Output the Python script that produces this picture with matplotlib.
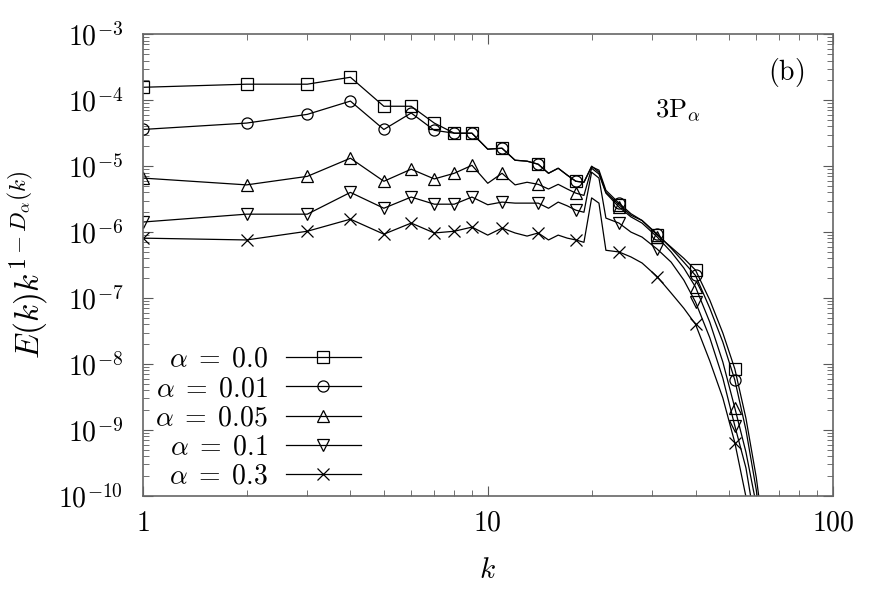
import numpy as np
import matplotlib
matplotlib.use('Agg')
import matplotlib.pyplot as plt
from matplotlib.lines import Line2D

plt.rcParams.update({
    'mathtext.fontset': 'cm',
    'font.family': 'serif',
    'font.serif': ['DejaVu Serif'],
    'font.size': 17,
})

# wavenumbers of the line data, and where markers are drawn
k = [1, 2, 3, 4, 5, 6, 7, 8, 9, 10, 11, 12, 13, 14, 15, 16, 17, 18, 19, 20, 21, 22,
     24, 26, 28, 31, 34, 37, 40, 44, 48, 52, 56, 60, 64]
k_marked = [1, 2, 3, 4, 5, 6, 7, 8, 9, 11, 14, 18, 24, 31, 40, 52]

e_a000 = [1.57e-4, 1.75e-4, 1.75e-4, 2.23e-4, 8.1e-5, 8.1e-5, 4.5e-5, 3.16e-5, 3.16e-5,
          1.81e-5, 1.87e-5, 1.23e-5, 1.19e-5, 1.07e-5, 7.8e-6, 9.3e-6, 7.3e-6, 5.9e-6,
          5.7e-6, 1.0e-5, 8.1e-6, 4.0e-6, 2.6e-6, 1.8e-6, 1.5e-6, 9.0e-7, 5.9e-7, 4.0e-7,
          2.65e-7, 9.3e-8, 2.95e-8, 8.4e-9, 1.5e-9, 1.9e-10, 1.5e-11]
e_a001 = [3.6e-5, 4.5e-5, 6.1e-5, 9.7e-5, 3.6e-5, 6.4e-5, 3.5e-5, 3.16e-5, 3.16e-5,
          1.81e-5, 1.87e-5, 1.23e-5, 1.19e-5, 1.07e-5, 7.8e-6, 9.3e-6, 7.3e-6, 5.9e-6,
          5.7e-6, 9.8e-6, 8.7e-6, 4.3e-6, 2.75e-6, 1.9e-6, 1.5e-6, 9.3e-7, 5.7e-7, 3.5e-7,
          2.2e-7, 7.0e-8, 2.15e-8, 5.7e-9, 1.0e-9, 1.23e-10, 1.07e-11]
e_a005 = [6.6e-6, 5.2e-6, 7.0e-6, 1.32e-5, 5.9e-6, 9.0e-6, 6.4e-6, 7.8e-6, 1.03e-5,
          5.5e-6, 7.8e-6, 5.2e-6, 5.7e-6, 5.3e-6, 4.5e-6, 5.3e-6, 4.5e-6, 3.9e-6,
          3.6e-6, 9.3e-6, 7.6e-6, 3.9e-6, 2.4e-6, 1.7e-6, 1.37e-6, 8.4e-7, 5.0e-7, 2.85e-7,
          1.47e-7, 4.3e-8, 1.07e-8, 2.15e-9, 4.6e-10, 7.3e-11, 6.4e-12]
e_a010 = [1.42e-6, 1.87e-6, 1.87e-6, 4.0e-6, 2.3e-6, 3.4e-6, 2.65e-6, 2.65e-6, 3.4e-6,
          2.6e-6, 2.85e-6, 2.75e-6, 2.75e-6, 2.75e-6, 2.3e-6, 2.85e-6, 2.5e-6, 2.15e-6,
          2.0e-6, 8.1e-6, 6.6e-6, 1.63e-6, 1.37e-6, 1.0e-6, 8.4e-7, 5.5e-7, 3.5e-7, 1.87e-7,
          8.7e-8, 2.5e-8, 6.1e-9, 1.15e-9, 2.65e-10, 3.05e-11, 2.6e-12]
e_a030 = [8.1e-7, 7.6e-7, 1.03e-6, 1.57e-6, 9.3e-7, 1.37e-6, 9.7e-7, 1.03e-6, 1.19e-6,
          9.0e-7, 1.15e-6, 9.7e-7, 8.7e-7, 9.7e-7, 7.6e-7, 9.0e-7, 8.1e-7, 7.6e-7,
          7.0e-7, 3.3e-6, 2.75e-6, 5.3e-7, 5.0e-7, 4.2e-7, 3.4e-7, 2.1e-7, 1.19e-7, 7.0e-8,
          4.0e-8, 1.11e-8, 3.05e-9, 6.4e-10, 9.7e-11, 1.07e-11, 1e-12]

series = [
    (e_a000, 's', r'$\alpha\;=\;0.0$'),
    (e_a001, 'o', r'$\alpha\;=\;0.01$'),
    (e_a005, '^', r'$\alpha\;=\;0.05$'),
    (e_a010, 'v', r'$\alpha\;=\;0.1$'),
    (e_a030, 'x', r'$\alpha\;=\;0.3$'),
]

marks = [k.index(v) for v in k_marked]

fig = plt.figure(figsize=(8.86, 5.91), dpi=100)
ax = fig.add_axes([0.161, 0.161, 0.779, 0.781])

style = dict(color='black', lw=0.9, markersize=8, markerfacecolor='none',
             markeredgecolor='black', markeredgewidth=0.9)
handles = []
for vals, m, lab in series:
    ax.plot(k, vals, marker=m, markevery=marks, **style)
    handles.append(Line2D([], [], marker=m, label=lab, **style))

ax.set_xscale('log')
ax.set_yscale('log')
ax.set_xlim(1, 100)
ax.set_ylim(1e-10, 1e-3)

ax.set_xticks([1, 10, 100])
ax.set_xticklabels([r'$1$', r'$10$', r'$100$'])
yt = [10.0 ** e for e in range(-10, -2)]
ax.set_yticks(yt)
ax.set_yticklabels([r'$10^{%d}$' % e for e in range(-10, -2)])

ax.tick_params(which='both', direction='in', top=True, right=True, color='0.35')
ax.tick_params(which='major', length=7, width=0.8, labelsize=20)
ax.tick_params(axis='y', which='major', pad=14)
ax.tick_params(axis='x', which='major', pad=10)
ax.tick_params(which='minor', length=4, width=0.6)
for s in ax.spines.values():
    s.set_color('0.4')
    s.set_linewidth(1.2)

ax.set_xlabel(r'$k$', fontsize=21, labelpad=14)
ax.set_ylabel(r'$E(k)k^{1-D_\alpha(k)}$', fontsize=24, labelpad=6)

ax.text(0.933, 0.918, r'$\mathrm{(b)}$', transform=ax.transAxes, fontsize=20,
        ha='center', va='center')
ax.text(0.775, 0.835, r'$\mathrm{3P}_\alpha$', transform=ax.transAxes, fontsize=19,
        ha='center', va='center')

ax.legend(handles=handles, loc='lower left', bbox_to_anchor=(0.012, 0.004),
          markerfirst=False, numpoints=1, frameon=False, fontsize=20,
          handlelength=2.7, handletextpad=0.65, labelspacing=0.08,
          borderaxespad=0.0, borderpad=0.15)

fig.savefig('out.png', dpi=100)
